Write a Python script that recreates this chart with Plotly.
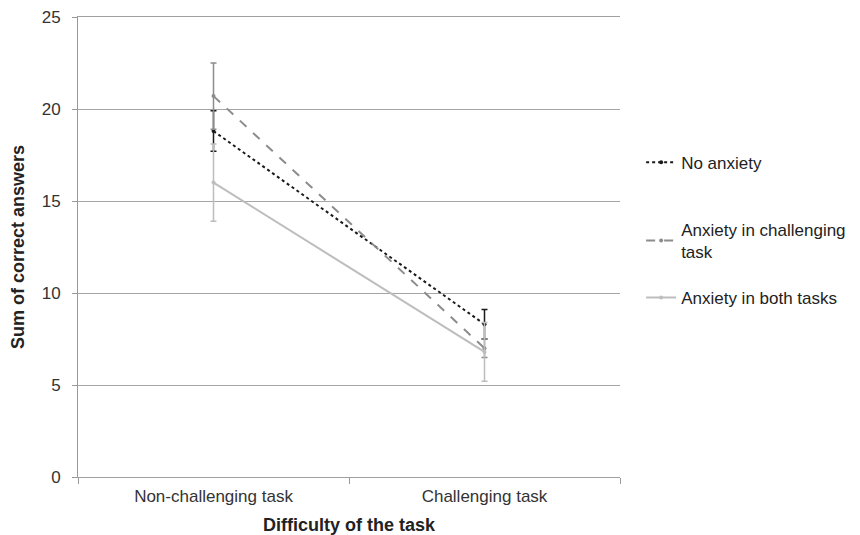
import plotly.graph_objects as go

categories = ["Non-challenging task", "Challenging task"]
series_names = ["No anxiety", "Anxiety in challenging<br>task", "Anxiety in both tasks"]
no_anxiety = [18.8, 8.3]
no_anxiety_err = [1.1, 0.8]
anx_challenging = [20.7, 7.0]
anx_challenging_err = [1.8, 0.5]
anx_both = [16.0, 6.8]
anx_both_err = [2.1, 1.6]

colors = ["#1a1a1a", "#8c8c8c", "#bdbdbd"]
dashes = ["dot", "dash", "solid"]
values = [no_anxiety, anx_challenging, anx_both]
errors = [no_anxiety_err, anx_challenging_err, anx_both_err]
legend_ids = ["legend", "legend2", "legend3"]
legend_y = [0.683, 0.513, 0.389]

fig = go.Figure()
for i, (name, v, e, c, d) in enumerate(zip(series_names, values, errors, colors, dashes)):
    fig.add_trace(go.Scatter(
        x=categories, y=v, name=name, mode="lines+markers", legend=legend_ids[i],
        line=dict(color=c, dash=d, width=2),
        marker=dict(color=c, size=4),
        error_y=dict(type="data", array=e, visible=True, color=c, thickness=1.5, width=3),
    ))

legend_common = dict(x=1.039, xanchor="left", yanchor="middle",
                     font=dict(size=17, color="#222222"),
                     itemwidth=30, bgcolor="rgba(0,0,0,0)")

fig.update_layout(
    width=852, height=527,
    margin=dict(l=70, r=238, t=9, b=58),
    paper_bgcolor="white", plot_bgcolor="white",
    font=dict(family="Liberation Sans, Arial, sans-serif", size=17, color="#333333"),
    showlegend=True,
    legend=dict(y=legend_y[0], **legend_common),
    legend2=dict(y=legend_y[1], **legend_common),
    legend3=dict(y=legend_y[2], **legend_common),
    xaxis=dict(
        title=dict(text="<b>Difficulty of the task</b>", font=dict(size=18, color="#222222"), standoff=18),
        range=[-0.5, 1.5], automargin=False,
        showline=True, mirror=True, linecolor="#a0a0a0", linewidth=1,
        ticks="outside", ticklen=6, tickcolor="#999999", ticklabelstandoff=4,
        tickson="boundaries", showgrid=False,
        tickfont=dict(size=17, color="#333333"),
    ),
    yaxis=dict(
        title=dict(text="<b>Sum of correct answers</b>", font=dict(size=18, color="#222222"), standoff=18),
        range=[0, 25], tickvals=[0, 5, 10, 15, 20, 25], showgrid=True, gridcolor="#a6a6a6", gridwidth=1,
        showline=True, linecolor="#999999", linewidth=1, zeroline=False, automargin=False,
        ticks="outside", ticklen=5, tickcolor="#999999", ticklabelstandoff=8,
        ticklabeloverflow="allow",
        tickfont=dict(size=17, color="#333333"),
    ),
)

fig.write_html("out.html")
